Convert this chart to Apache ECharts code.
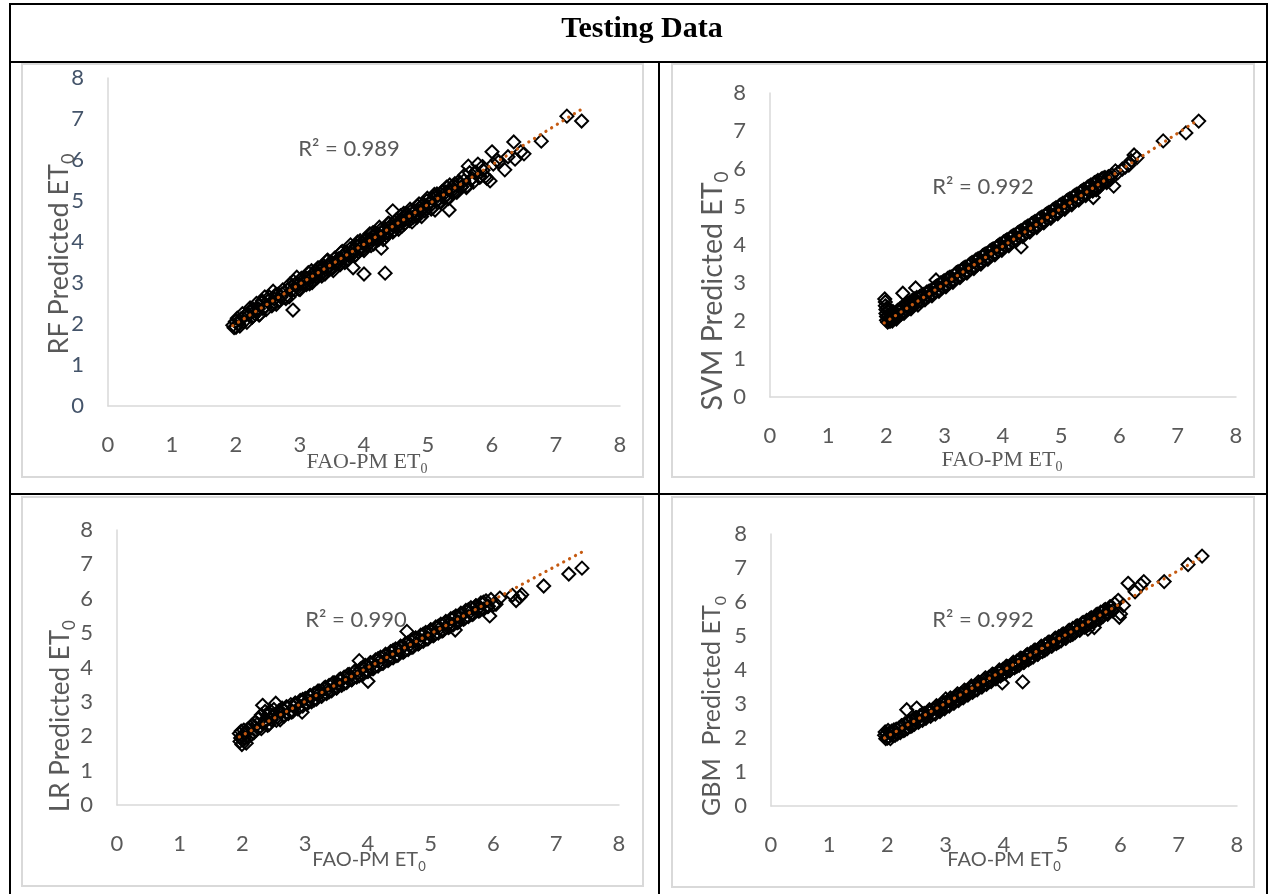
<!DOCTYPE html>
<html>
<head>
<meta charset="utf-8">
<script src="https://cdn.jsdelivr.net/npm/echarts@6/dist/echarts.min.js"></script>
<style>
html,body{margin:0;padding:0;background:#fff;}
#chart{width:1270px;height:894px;}
</style>
</head>
<body>
<div id="chart"></div>
<script>
// ---------- data (FAO-PM ET0, model predicted ET0) ----------
const rfData = [
[1.95,1.97],[1.97,1.91],[1.99,2.06],[2.0,1.92],[2.02,2.14],[2.04,2.01],[2.06,1.95],[2.08,2.13],[2.1,2.25],[2.12,2.05],
[2.15,2.22],[2.17,2.04],[2.2,2.22],[2.22,2.39],[2.25,2.16],[2.27,2.36],[2.3,2.24],[2.32,2.5],[2.35,2.37],[2.37,2.23],
[2.4,2.51],[2.42,2.38],[2.45,2.66],[2.47,2.35],[2.5,2.56],[2.52,2.66],[2.55,2.47],[2.58,2.8],[2.6,2.61],[2.63,2.48],
[2.66,2.73],[2.7,2.65],[2.73,2.83],[2.76,2.65],[2.8,2.83],[2.83,2.66],[2.86,2.91],[2.89,2.34],[2.9,3.04],[2.92,2.82],
[2.95,3.14],[2.97,2.96],[3.0,2.84],[3.02,3.11],[3.05,2.99],[3.08,3.12],[3.1,2.96],[3.13,3.25],[3.16,3.12],[3.19,3.01],
[3.22,3.25],[3.25,3.15],[3.28,3.37],[3.31,3.29],[3.34,3.17],[3.37,3.42],[3.4,3.33],[3.43,3.56],[3.46,3.33],[3.49,3.5],
[3.52,3.3],[3.55,3.61],[3.58,3.52],[3.61,3.45],[3.64,3.74],[3.67,3.65],[3.7,3.5],[3.73,3.75],[3.76,3.66],[3.79,3.93],
[3.82,3.77],[3.83,3.37],[3.85,3.66],[3.88,3.91],[3.91,3.77],[3.94,4.03],[3.97,3.88],[4.0,3.22],[4.0,3.79],[4.03,4.04],
[4.06,3.93],[4.09,4.2],[4.12,4.07],[4.15,3.95],[4.18,4.22],[4.21,4.09],[4.24,4.36],[4.27,3.85],[4.27,4.23],[4.3,4.06],
[4.33,3.24],[4.33,4.33],[4.36,4.22],[4.39,4.45],[4.42,4.31],[4.45,4.76],[4.45,4.24],[4.48,4.49],[4.51,4.42],[4.54,4.31],
[4.57,4.64],[4.6,4.53],[4.63,4.44],[4.66,4.69],[4.69,4.56],[4.72,4.8],[4.75,4.49],[4.78,4.74],[4.81,4.63],[4.84,4.88],
[4.87,4.75],[4.9,4.62],[4.93,4.93],[4.96,4.8],[4.99,5.07],[5.02,4.93],[5.05,4.8],[5.08,5.05],[5.11,4.78],[5.14,5.17],
[5.17,5.04],[5.2,4.97],[5.23,5.22],[5.26,5.09],[5.29,5.34],[5.32,5.06],[5.33,4.78],[5.35,5.27],[5.38,5.19],[5.42,5.42],
[5.45,5.21],[5.49,5.43],[5.53,5.35],[5.57,5.63],[5.6,5.33],[5.63,5.85],[5.67,5.52],[5.71,5.46],[5.75,5.7],[5.78,5.9],
[5.82,5.59],[5.86,5.75],[5.9,5.6],[5.92,5.55],[5.97,5.49],[6.0,6.2],[6.02,5.9],[6.08,6.0],[6.1,5.95],[6.2,5.76],
[6.25,6.08],[6.34,6.44],[6.36,6.02],[6.45,6.2],[6.5,6.15],[6.77,6.46],[7.17,7.07],[7.4,6.95],
[2.21,2.31],[2.26,2.18],[2.31,2.34],[2.36,2.22],[2.41,2.56],[2.46,2.42],[2.51,2.57],[2.56,2.44],[2.61,2.7],[2.67,2.58],
[2.72,2.74],[2.78,2.62],[2.84,2.97],[2.88,2.83],[2.93,2.98],[2.98,2.85],[3.03,3.11],[3.06,2.96],[3.11,3.11],[3.15,2.98],
[3.18,3.3],[3.21,3.15],[3.24,3.28],[3.27,3.13],[3.3,3.37],[3.33,3.22],[3.36,3.36],[3.39,3.22],[3.42,3.53],[3.45,3.38],
[3.48,3.51],[3.51,3.36],[3.54,3.6],[3.57,3.45],[3.6,3.59],[3.63,3.45],[3.66,3.77],[3.69,3.62],[3.72,3.75],[3.75,3.59],
[3.78,3.83],[3.81,3.68],[3.84,3.82],[3.87,3.68],[3.9,4.0],[3.93,3.85],[3.96,3.98],[3.99,3.83],[4.02,4.07],[4.05,3.91],
[4.08,4.05],[4.11,3.91],[4.14,4.23],[4.17,4.08],[4.2,4.21],[4.23,4.06],[4.26,4.3],[4.29,4.15],[4.32,4.29],[4.35,4.15],
[4.38,4.46],[4.41,4.31],[4.44,4.44],[4.47,4.29],[4.5,4.53],[4.53,4.38],[4.56,4.52],[4.59,4.38],[4.62,4.7],[4.65,4.55],
[4.68,4.68],[4.71,4.52],[4.74,4.76],[4.77,4.61],[4.8,4.75],[4.83,4.61],[4.86,4.93],[4.89,4.78],[4.92,4.91],[4.95,4.76],
[4.98,5.0],[5.01,4.84],[5.04,4.98],[5.07,4.84],[5.1,5.16],[5.13,5.01],[5.16,5.14],[5.19,4.99],[5.22,5.23],[5.25,5.08],
[5.28,5.22],[5.31,5.08],[5.34,5.39],[5.37,5.24],[5.4,5.37],[5.44,5.23],[5.48,5.48],[5.52,5.34],[5.56,5.49],[5.61,5.37],
[5.65,5.69],[5.69,5.55],[5.74,5.7],[5.8,5.58],[5.85,5.84]
];
const svmData = [
[1.97,2.58],[1.98,2.5],[1.98,2.4],[1.99,2.3],[1.99,2.2],[2.0,2.12],[2.0,2.02],[2.01,2.35],[2.02,1.97],[2.02,2.25],
[2.03,2.15],[2.04,2.05],[2.05,2.3],[2.06,1.99],[2.07,2.2],[2.08,2.1],[2.1,2.0],[2.11,2.25],[2.13,2.08],[2.15,2.18],
[2.17,2.05],[2.19,2.28],[2.21,2.15],[2.23,2.32],[2.25,2.18],[2.27,2.38],[2.28,2.73],[2.3,2.24],[2.32,2.42],[2.34,2.3],
[2.36,2.46],[2.38,2.32],[2.4,2.5],[2.42,2.38],[2.44,2.54],[2.46,2.4],[2.48,2.58],[2.5,2.87],[2.5,2.45],[2.52,2.62],
[2.54,2.5],[2.57,2.64],[2.6,2.52],[2.63,2.7],[2.66,2.6],[2.69,2.76],[2.72,2.64],[2.75,2.8],[2.78,2.7],[2.81,2.86],
[2.84,2.76],[2.85,3.08],[2.87,2.93],[2.9,2.82],[2.93,3.0],[2.96,2.88],[2.99,3.06],[3.02,2.94],[3.05,3.12],[3.08,3.0],
[3.11,3.16],[3.14,3.06],[3.17,3.22],[3.2,3.12],[3.23,3.3],[3.26,3.18],[3.29,3.35],[3.32,3.24],[3.35,3.42],[3.38,3.3],
[3.41,3.46],[3.44,3.36],[3.47,3.54],[3.5,3.42],[3.53,3.6],[3.56,3.48],[3.59,3.65],[3.62,3.54],[3.65,3.72],[3.68,3.6],
[3.71,3.77],[3.74,3.66],[3.77,3.84],[3.8,3.72],[3.83,3.9],[3.86,3.78],[3.89,3.95],[3.92,3.84],[3.95,4.02],[3.98,3.9],
[4.01,4.08],[4.04,3.96],[4.07,4.14],[4.1,4.02],[4.13,4.2],[4.16,4.08],[4.19,4.26],[4.22,4.14],[4.25,4.32],[4.28,4.2],
[4.31,3.95],[4.31,4.38],[4.34,4.26],[4.37,4.44],[4.4,4.32],[4.43,4.5],[4.46,4.38],[4.49,4.56],[4.52,4.44],[4.55,4.62],
[4.58,4.5],[4.61,4.68],[4.64,4.56],[4.67,4.74],[4.7,4.62],[4.73,4.8],[4.76,4.68],[4.79,4.86],[4.82,4.74],[4.85,4.92],
[4.88,4.8],[4.91,4.98],[4.94,4.86],[4.97,5.04],[5.0,4.92],[5.03,5.1],[5.06,4.98],[5.09,5.16],[5.12,5.04],[5.15,5.22],
[5.18,5.1],[5.21,5.28],[5.24,5.16],[5.27,5.34],[5.3,5.22],[5.33,5.4],[5.36,5.28],[5.39,5.46],[5.42,5.34],[5.45,5.52],
[5.48,5.4],[5.51,5.58],[5.54,5.46],[5.55,5.25],[5.57,5.64],[5.6,5.45],[5.6,5.52],[5.63,5.7],[5.66,5.58],[5.69,5.74],
[5.72,5.64],[5.75,5.78],[5.78,5.68],[5.81,5.8],[5.84,5.72],[5.87,5.85],[5.9,5.55],[5.93,5.95],[5.97,5.9],[6.05,6.0],
[6.1,6.05],[6.16,6.1],[6.2,6.22],[6.25,6.37],[6.3,6.3],[6.75,6.74],[7.14,6.95],[7.36,7.26],
[2.12,2.2],[2.18,2.09],[2.24,2.27],[2.3,2.2],[2.36,2.4],[2.42,2.32],[2.48,2.52],[2.54,2.42],[2.6,2.65],[2.66,2.56],
[2.72,2.78],[2.78,2.66],[2.84,2.9],[2.9,2.78],[2.96,3.02],[3.02,2.9],[3.08,3.15],[3.14,3.02],[3.2,3.27],[3.26,3.14],
[3.32,3.39],[3.38,3.26],[3.44,3.51],[3.5,3.38],[3.56,3.63],[3.62,3.5],[3.68,3.75],[3.74,3.62],[3.8,3.87],[3.86,3.74],
[3.92,3.99],[3.98,3.86],[4.04,4.11],[4.1,3.98],[4.16,4.23],[4.22,4.1],[4.28,4.35],[4.34,4.22],[4.4,4.47],[4.46,4.34],
[4.52,4.59],[4.58,4.46],[4.64,4.71],[4.7,4.58],[4.76,4.83],[4.82,4.7],[4.88,4.95],[4.94,4.82],[5.0,5.07],[5.06,4.94],
[5.12,5.19],[5.18,5.06],[5.24,5.31],[5.3,5.18],[5.36,5.43],[5.42,5.3],[5.48,5.55],[5.54,5.42],[5.6,5.66],[5.66,5.54],
[5.72,5.76],[5.78,5.64],[5.84,5.8]
];
const lrData = [
[1.95,2.08],[1.96,1.85],[1.97,1.95],[1.98,2.15],[1.99,1.76],[2.0,2.02],[2.01,1.88],[2.02,2.18],[2.03,1.95],[2.05,2.08],
[2.06,1.8],[2.08,2.2],[2.1,1.98],[2.12,2.26],[2.14,2.05],[2.16,2.34],[2.18,2.1],[2.2,2.4],[2.22,2.18],[2.25,2.5],
[2.27,2.25],[2.3,2.62],[2.32,2.9],[2.34,2.38],[2.36,2.72],[2.38,2.48],[2.4,2.32],[2.43,2.66],[2.44,2.52],[2.46,2.48],
[2.5,2.78],[2.53,2.96],[2.55,2.56],[2.58,2.74],[2.6,2.48],[2.62,2.7],[2.63,2.82],[2.66,2.62],[2.7,2.86],[2.73,2.66],
[2.77,2.92],[2.8,2.72],[2.82,2.85],[2.84,2.96],[2.88,2.8],[2.92,3.04],[2.95,2.7],[2.96,2.88],[3.0,3.1],[3.03,2.94],
[3.05,3.05],[3.07,3.17],[3.1,3.0],[3.14,3.24],[3.18,3.08],[3.2,3.2],[3.22,3.32],[3.26,3.16],[3.3,3.4],[3.34,3.24],
[3.36,3.36],[3.38,3.48],[3.42,3.32],[3.46,3.56],[3.5,3.4],[3.52,3.52],[3.54,3.64],[3.58,3.48],[3.62,3.72],[3.66,3.56],
[3.68,3.68],[3.7,3.8],[3.74,3.64],[3.78,3.88],[3.82,3.72],[3.84,3.84],[3.86,4.2],[3.88,3.96],[3.92,3.8],[3.96,4.06],
[4.0,3.6],[4.0,3.88],[4.02,4.0],[4.04,4.14],[4.08,3.96],[4.12,4.22],[4.16,4.04],[4.18,4.17],[4.2,4.3],[4.24,4.12],
[4.28,4.38],[4.32,4.2],[4.34,4.33],[4.36,4.46],[4.4,4.28],[4.44,4.54],[4.48,4.36],[4.5,4.49],[4.52,4.62],[4.56,4.44],
[4.6,4.7],[4.62,5.05],[4.64,4.52],[4.66,4.65],[4.68,4.78],[4.72,4.6],[4.76,4.86],[4.8,4.68],[4.82,4.81],[4.84,4.94],
[4.88,4.76],[4.92,5.02],[4.96,4.84],[4.98,4.97],[5.0,5.1],[5.04,4.92],[5.08,5.18],[5.12,5.0],[5.14,5.13],[5.16,5.26],
[5.2,5.08],[5.24,5.34],[5.28,5.16],[5.3,5.29],[5.32,5.42],[5.36,5.24],[5.39,5.09],[5.4,5.5],[5.44,5.32],[5.46,5.45],
[5.48,5.58],[5.52,5.4],[5.56,5.66],[5.6,5.48],[5.62,5.61],[5.64,5.74],[5.68,5.56],[5.72,5.8],[5.76,5.64],[5.78,5.76],
[5.8,5.88],[5.84,5.7],[5.88,5.94],[5.92,5.78],[5.94,5.5],[5.96,5.98],[6.0,5.82],[6.04,5.84],[6.1,6.02],[6.3,6.1],
[6.36,5.95],[6.42,6.05],[6.45,6.12],[6.8,6.37],[7.2,6.72],[7.41,6.89],
[2.24,2.36],[2.3,2.22],[2.36,2.48],[2.42,2.34],[2.48,2.6],[2.54,2.46],[2.6,2.72],[2.66,2.58],[2.72,2.84],[2.78,2.7],
[2.84,2.96],[2.9,2.82],[2.96,3.07],[3.02,2.94],[3.08,3.19],[3.14,3.05],[3.2,3.31],[3.26,3.17],[3.32,3.43],[3.38,3.29],
[3.44,3.55],[3.5,3.41],[3.56,3.67],[3.62,3.53],[3.68,3.79],[3.74,3.65],[3.8,3.9],[3.86,3.76],[3.92,4.02],[3.98,3.88],
[4.04,4.14],[4.1,4.0],[4.16,4.26],[4.22,4.12],[4.28,4.38],[4.34,4.24],[4.4,4.5],[4.46,4.35],[4.52,4.61],[4.58,4.47],
[4.64,4.73],[4.7,4.59],[4.76,4.85],[4.82,4.71],[4.88,4.97],[4.94,4.83],[5.0,5.09],[5.06,4.95],[5.12,5.2],[5.18,5.06],
[5.24,5.32],[5.3,5.18],[5.36,5.44],[5.42,5.3],[5.48,5.56],[5.54,5.42],[5.6,5.68],[5.66,5.54],[5.72,5.79],[5.78,5.65],
[5.84,5.9],[5.9,5.77]
];
const gbmData = [
[1.95,2.08],[1.96,2.18],[1.97,1.98],[1.98,2.12],[2.0,2.0],[2.01,2.22],[2.02,2.04],[2.04,2.16],[2.05,1.98],[2.07,2.2],
[2.09,2.06],[2.11,2.24],[2.13,2.08],[2.15,2.26],[2.17,2.12],[2.2,2.3],[2.22,2.16],[2.25,2.36],[2.28,2.22],[2.3,2.42],
[2.33,2.83],[2.34,2.28],[2.37,2.48],[2.4,2.34],[2.43,2.54],[2.46,2.4],[2.48,2.5],[2.5,2.88],[2.5,2.6],[2.53,2.46],
[2.56,2.66],[2.6,2.52],[2.63,2.72],[2.66,2.58],[2.68,2.68],[2.7,2.78],[2.74,2.64],[2.78,2.84],[2.82,2.7],[2.86,2.92],
[2.88,2.86],[2.9,2.78],[2.94,3.0],[2.98,2.86],[3.0,3.15],[3.02,3.06],[3.06,2.94],[3.08,3.06],[3.1,3.14],[3.14,3.02],
[3.18,3.22],[3.22,3.1],[3.24,3.2],[3.26,3.3],[3.3,3.18],[3.34,3.38],[3.38,3.26],[3.4,3.36],[3.42,3.46],[3.46,3.34],
[3.5,3.54],[3.54,3.42],[3.56,3.52],[3.58,3.62],[3.62,3.5],[3.66,3.72],[3.7,3.58],[3.72,3.68],[3.74,3.78],[3.78,3.66],
[3.82,3.86],[3.86,3.74],[3.88,3.84],[3.9,3.94],[3.94,3.82],[3.97,3.62],[3.98,4.02],[4.02,3.9],[4.04,4.0],[4.06,4.1],
[4.1,3.98],[4.14,4.18],[4.18,4.06],[4.2,4.16],[4.22,4.26],[4.26,4.14],[4.3,4.34],[4.32,3.65],[4.34,4.22],[4.36,4.32],
[4.38,4.42],[4.42,4.3],[4.46,4.5],[4.5,4.38],[4.52,4.48],[4.54,4.58],[4.58,4.46],[4.62,4.66],[4.66,4.54],[4.68,4.64],
[4.7,4.74],[4.74,4.62],[4.78,4.82],[4.82,4.7],[4.84,4.8],[4.86,4.9],[4.9,4.78],[4.94,4.98],[4.98,4.86],[5.0,4.96],
[5.02,5.06],[5.06,4.94],[5.1,5.14],[5.14,5.02],[5.16,5.12],[5.18,5.22],[5.22,5.1],[5.26,5.3],[5.3,5.18],[5.32,5.28],
[5.34,5.38],[5.38,5.26],[5.42,5.46],[5.44,5.2],[5.46,5.34],[5.48,5.44],[5.5,5.54],[5.54,5.42],[5.55,5.25],[5.58,5.62],
[5.62,5.5],[5.64,5.6],[5.66,5.7],[5.7,5.58],[5.74,5.78],[5.78,5.66],[5.8,5.76],[5.82,5.86],[5.86,5.74],[5.9,5.95],
[5.96,6.05],[5.98,5.55],[6.0,5.65],[6.05,5.9],[6.13,6.55],[6.25,6.3],[6.35,6.5],[6.4,6.6],[6.75,6.6],[7.16,7.1],
[7.4,7.35],
[2.24,2.36],[2.3,2.24],[2.36,2.48],[2.42,2.36],[2.48,2.6],[2.54,2.48],[2.6,2.71],[2.66,2.6],[2.72,2.83],[2.78,2.71],
[2.84,2.95],[2.9,2.83],[2.96,3.06],[3.02,2.95],[3.08,3.18],[3.14,3.06],[3.2,3.3],[3.26,3.18],[3.32,3.41],[3.38,3.3],
[3.44,3.53],[3.5,3.41],[3.56,3.65],[3.62,3.53],[3.68,3.77],[3.74,3.65],[3.8,3.88],[3.86,3.76],[3.92,4.0],[3.98,3.88],
[4.04,4.11],[4.1,3.99],[4.16,4.23],[4.22,4.11],[4.28,4.35],[4.34,4.23],[4.4,4.46],[4.46,4.35],[4.52,4.58],[4.58,4.46],
[4.64,4.7],[4.7,4.58],[4.76,4.82],[4.82,4.7],[4.88,4.94],[4.94,4.82],[5.0,5.05],[5.06,4.93],[5.12,5.17],[5.18,5.05],
[5.24,5.29],[5.3,5.17],[5.36,5.4],[5.42,5.29],[5.48,5.52],[5.54,5.4],[5.6,5.64],[5.66,5.52],[5.72,5.76],[5.78,5.64],
[5.84,5.86]
];
// linear trendline end points
const trendRF  = [[1.95,1.96],[7.4,7.24]];
const trendSVM = [[1.96,1.95],[7.36,7.3]];
const trendLR  = [[1.95,1.98],[7.41,7.36]];
const trendGBM = [[1.95,2.0],[7.4,7.32]];
const r2Texts = ['R² = 0.989','R² = 0.992','R² = 0.990','R² = 0.992'];
const yTitles = ['RF Predicted ET','SVM Predicted ET','LR Predicted ET','GBM  Predicted ET'];
const xTitle = 'FAO-PM ET';
const subText = '0';
const pageTitle = 'Testing Data';
const axisMin = 0, axisMax = 8, axisStep = 1;

// ---------- layout ----------
const SANS = 'Lato, "Open Sans", sans-serif';
const SERIF = '"Liberation Serif", "DejaVu Serif", serif';
const GRAY = '#595959';
const panels = [
  {data: rfData, trend: trendRF, grid:{left:108, top:78, width:512, height:328}, yLabelColor:'#44546A',
   r2:[349,149], yT:[59,254], yTSize:27, xT:[367,462], xSerif:true},
  {data: svmData, trend: trendSVM, grid:{left:770, top:93, width:466, height:304}, yLabelColor:GRAY,
   r2:[983,187], yT:[713,291], yTSize:28.5, xT:[1002,460], xSerif:true},
  {data: lrData, trend: trendLR, grid:{left:117, top:530, width:502, height:275}, yLabelColor:GRAY,
   r2:[356,620], yT:[61,716], yTSize:26, xT:[369,860], xSerif:false},
  {data: gbmData, trend: trendGBM, grid:{left:771, top:534, width:466, height:272}, yLabelColor:GRAY,
   r2:[983,620], yT:[712,706], yTSize:25, xT:[1004,860], xSerif:false}
];

const grids = [], xAxes = [], yAxes = [], series = [], graphics = [];
panels.forEach((p, i) => {
  grids.push(Object.assign({containLabel:false, outerBoundsMode:'none'}, p.grid));
  xAxes.push({
    type:'value', gridIndex:i, min:axisMin, max:axisMax, interval:axisStep,
    axisLine:{show:true, onZero:false, lineStyle:{color:'#d9d9d9', width:1.5}},
    axisTick:{show:false}, splitLine:{show:false},
    axisLabel:{color:GRAY, fontSize:22, fontFamily:SANS, margin:28}
  });
  yAxes.push({
    type:'value', gridIndex:i, min:axisMin, max:axisMax, interval:axisStep,
    axisLine:{show:true, onZero:false, lineStyle:{color:'#d9d9d9', width:1.5}},
    axisTick:{show:false}, splitLine:{show:false},
    axisLabel:{color:p.yLabelColor, fontSize:22, fontFamily:SANS, margin:24}
  });
  series.push({
    type:'scatter', xAxisIndex:i, yAxisIndex:i, data:p.data,
    symbol:'diamond', symbolSize:13, large:false,
    itemStyle:{color:'rgba(255,255,255,0)', borderColor:'#000000', borderWidth:2, opacity:1},
    emphasis:{disabled:true}, z:2
  });
  series.push({
    type:'line', xAxisIndex:i, yAxisIndex:i, data:p.trend, symbol:'none',
    lineStyle:{color:'#C55A11', width:3.2, type:[0.1, 6.6], cap:'round'},
    emphasis:{disabled:true}, z:3
  });
  graphics.push({type:'text', x:p.r2[0], y:p.r2[1], z:10,
    style:{text:r2Texts[i], fill:GRAY, fontSize:22, fontFamily:SANS, align:'center', verticalAlign:'middle'}});
  graphics.push({type:'text', x:p.yT[0], y:p.yT[1], rotation:Math.PI/2, z:10,
    style:{text:'{a|' + yTitles[i] + '}{s|' + subText + '}', align:'center', verticalAlign:'middle',
      rich:{a:{fill:GRAY, fontSize:p.yTSize, fontFamily:SANS, lineHeight:30},
            s:{fill:GRAY, fontSize:Math.round(p.yTSize*0.65), fontFamily:SANS, lineHeight:30, padding:[18,0,0,0]}}}});
  const fam = p.xSerif ? SERIF : SANS;
  const fs = p.xSerif ? 22 : 20;
  graphics.push({type:'text', x:p.xT[0], y:p.xT[1], z:10,
    style:{text:'{a|' + xTitle + '}{s|' + subText + '}', align:'center', verticalAlign:'middle',
      rich:{a:{fill:GRAY, fontSize:fs, fontFamily:fam, lineHeight:24},
            s:{fill:GRAY, fontSize:Math.round(fs*0.65), fontFamily:fam, lineHeight:24, padding:[14,0,0,0]}}}});
});

// chart-area frames (light gray)
[[22,64,621,413],[672,64,582,413],[22,497,621,389],[672,497,582,390]].forEach(r => {
  graphics.push({type:'rect', shape:{x:r[0], y:r[1], width:r[2], height:r[3]}, z:0,
    style:{fill:'none', stroke:'#d9d9d9', lineWidth:2}});
});
// table lines (black)
[[9,4,1268,4],[9,62,1268,62],[9,494,1268,494],[10,4,10,894],[659,62,659,894],[1267,4,1267,894]].forEach(l => {
  graphics.push({type:'line', shape:{x1:l[0], y1:l[1], x2:l[2], y2:l[3]}, z:20,
    style:{stroke:'#000', lineWidth:2}});
});
graphics.push({type:'text', x:642, y:29, z:20,
  style:{text:pageTitle, fill:'#000', fontSize:30, fontWeight:'bold', fontFamily:SERIF, align:'center', verticalAlign:'middle'}});

const chart = echarts.init(document.getElementById('chart'), null, {renderer:'canvas'});
chart.setOption({
  animation:false,
  backgroundColor:'#ffffff',
  grid:grids, xAxis:xAxes, yAxis:yAxes, series:series,
  graphic:{elements:graphics}
});
</script>
</body>
</html>
